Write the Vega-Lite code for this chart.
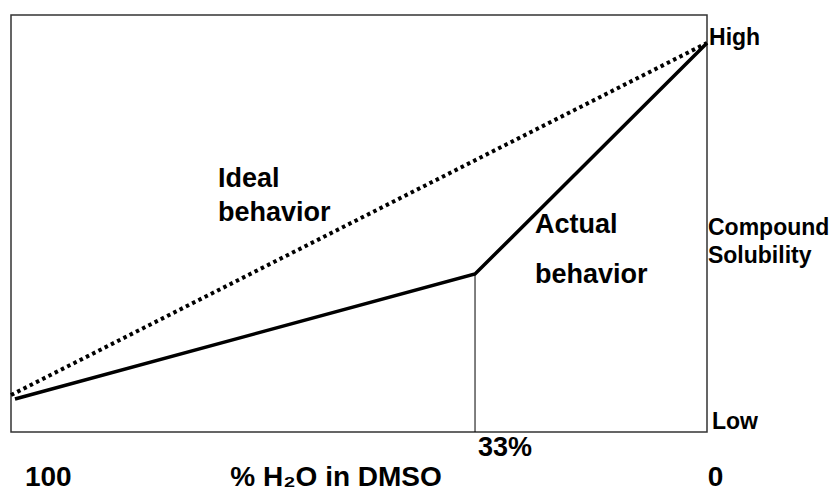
{
  "$schema": "https://vega.github.io/schema/vega-lite/v6.json",
  "width": 696,
  "height": 417,
  "autosize": {"type": "none"},
  "padding": {"left": 11, "top": 15, "right": 132, "bottom": 61},
  "background": "white",
  "config": {
    "view": {"stroke": "#333333", "strokeWidth": 1.5},
    "text": {"font": "Liberation Sans", "fontWeight": "bold", "color": "black", "align": "left", "baseline": "alphabetic"}
  },
  "datasets": {
    "lines": [
      {"series": "Ideal", "water": 100, "val": 8.87, "ord": 1},
      {"series": "Ideal", "water": 0, "val": 93.29, "ord": 2},
      {"series": "Actual", "water": 99.43, "val": 7.91, "ord": 1},
      {"series": "Actual", "water": 33.33, "val": 37.89, "ord": 2},
      {"series": "Actual", "water": 0, "val": 93.29, "ord": 3}
    ],
    "rule": [
      {"water": 33.33, "val": 0, "val2": 37.89}
    ],
    "labels": [
      {"group": "axis", "label": "100", "water": 98.0, "val": -12.95},
      {"group": "axis", "label": "% H₂O in DMSO", "water": 68.5, "val": -12.95},
      {"group": "axis", "label": "0", "water": -0.1, "val": -12.95},
      {"group": "tick", "label": "33%", "water": 32.9, "val": -5.76},
      {"group": "right", "label": "High", "water": -0.29, "val": 92.81},
      {"group": "right", "label": "Compound", "water": -0.14, "val": 47.24},
      {"group": "right", "label": "Solubility", "water": -0.14, "val": 40.53},
      {"group": "right", "label": "Low", "water": -0.72, "val": 0.72},
      {"group": "annot", "label": "Ideal", "water": 70.26, "val": 58.75},
      {"group": "annot", "label": "behavior", "water": 70.26, "val": 50.6},
      {"group": "annot", "label": "Actual", "water": 24.71, "val": 47.72},
      {"group": "annot", "label": "behavior", "water": 24.71, "val": 35.73}
    ]
  },
  "encoding": {
    "x": {"field": "water", "type": "quantitative", "scale": {"domain": [100, 0], "nice": false, "zero": false}, "axis": null},
    "y": {"field": "val", "type": "quantitative", "scale": {"domain": [0, 100], "nice": false, "zero": false}, "axis": null}
  },
  "layer": [
    {
      "data": {"name": "lines"},
      "transform": [{"filter": "datum.series === 'Ideal'"}],
      "mark": {"type": "line", "color": "black", "strokeWidth": 4, "strokeDash": [3.5, 3.5], "strokeCap": "butt"},
      "encoding": {"order": {"field": "ord", "type": "quantitative"}}
    },
    {
      "data": {"name": "lines"},
      "transform": [{"filter": "datum.series === 'Actual'"}],
      "mark": {"type": "line", "color": "black", "strokeWidth": 3.5, "strokeJoin": "miter"},
      "encoding": {"order": {"field": "ord", "type": "quantitative"}}
    },
    {
      "data": {"name": "rule"},
      "mark": {"type": "rule", "color": "black", "strokeWidth": 1},
      "encoding": {"y2": {"field": "val2"}}
    },
    {
      "data": {"name": "labels"},
      "transform": [{"filter": "datum.group === 'axis'"}],
      "mark": {"type": "text", "fontSize": 28},
      "encoding": {"text": {"field": "label"}}
    },
    {
      "data": {"name": "labels"},
      "transform": [{"filter": "datum.group === 'tick'"}],
      "mark": {"type": "text", "fontSize": 27},
      "encoding": {"text": {"field": "label"}}
    },
    {
      "data": {"name": "labels"},
      "transform": [{"filter": "datum.group === 'right'"}],
      "mark": {"type": "text", "fontSize": 23},
      "encoding": {"text": {"field": "label"}}
    },
    {
      "data": {"name": "labels"},
      "transform": [{"filter": "datum.group === 'annot'"}],
      "mark": {"type": "text", "fontSize": 27},
      "encoding": {"text": {"field": "label"}}
    }
  ]
}
